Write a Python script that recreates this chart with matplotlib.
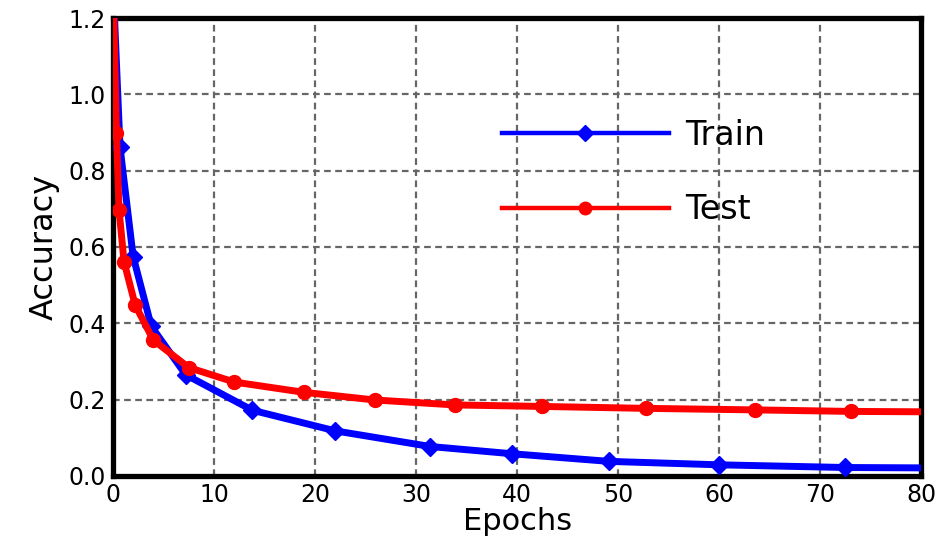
import matplotlib.pyplot as plt
from matplotlib.lines import Line2D

# Train (diamond markers)
train_x = [0.0, 0.7, 2.0, 3.8, 7.2, 13.8, 22.0, 31.4, 39.5, 49.1, 60.0, 72.4, 80.0]
train_y = [1.30, 0.862, 0.575, 0.392, 0.265, 0.172, 0.118, 0.077, 0.058, 0.038, 0.029, 0.022, 0.021]

# Test (circle markers)
test_x = [0.0, 0.35, 0.6, 1.1, 2.2, 4.0, 7.5, 12.0, 18.9, 25.9, 33.8, 42.5, 52.7, 63.5, 73.0, 80.0]
test_y = [1.30, 0.90, 0.698, 0.561, 0.448, 0.356, 0.284, 0.246, 0.219, 0.199, 0.186, 0.182, 0.177, 0.173, 0.169, 0.168]

train_every = list(range(len(train_x) - 1))
test_every = list(range(len(test_x) - 1))

fig = plt.figure(figsize=(9.49, 5.47), dpi=100)
ax = fig.add_axes([0.119, 0.130, 0.852, 0.837])

ax.plot(train_x, train_y, color='#0000ff', linewidth=5, marker='D', markersize=9,
        markevery=train_every, zorder=3)
ax.plot(test_x, test_y, color='#ff0000', linewidth=5, marker='o', markersize=10,
        markevery=test_every, zorder=4)

ax.set_xlim(0, 80)
ax.set_ylim(0, 1.2)
ax.set_xticks(range(0, 81, 10))
ax.set_yticks([0.0, 0.2, 0.4, 0.6, 0.8, 1.0, 1.2])
ax.set_yticklabels(['0.0', '0.2', '0.4', '0.6', '0.8', '1.0', '1.2'])
ax.tick_params(labelsize=17, length=0, pad=5)

ax.grid(True, color='#666666', linestyle=(0, (3, 2)), linewidth=1.6)
ax.set_axisbelow(True)
for s in ax.spines.values():
    s.set_linewidth(3.8)
    s.set_color('black')

ax.set_xlabel('Epochs', fontsize=22, labelpad=0)
ax.set_ylabel('Accuracy', fontsize=23, labelpad=6)

handles = [
    Line2D([], [], color='#0000ff', linewidth=3.2, marker='D', markersize=8),
    Line2D([], [], color='#ff0000', linewidth=3.2, marker='o', markersize=9),
]
ax.legend(handles, ['Train', 'Test'], loc='center left', bbox_to_anchor=(0.444, 0.663),
          frameon=False, fontsize=24, handlelength=5.0, handletextpad=0.5,
          labelspacing=1.25)

plt.savefig('out.png')
